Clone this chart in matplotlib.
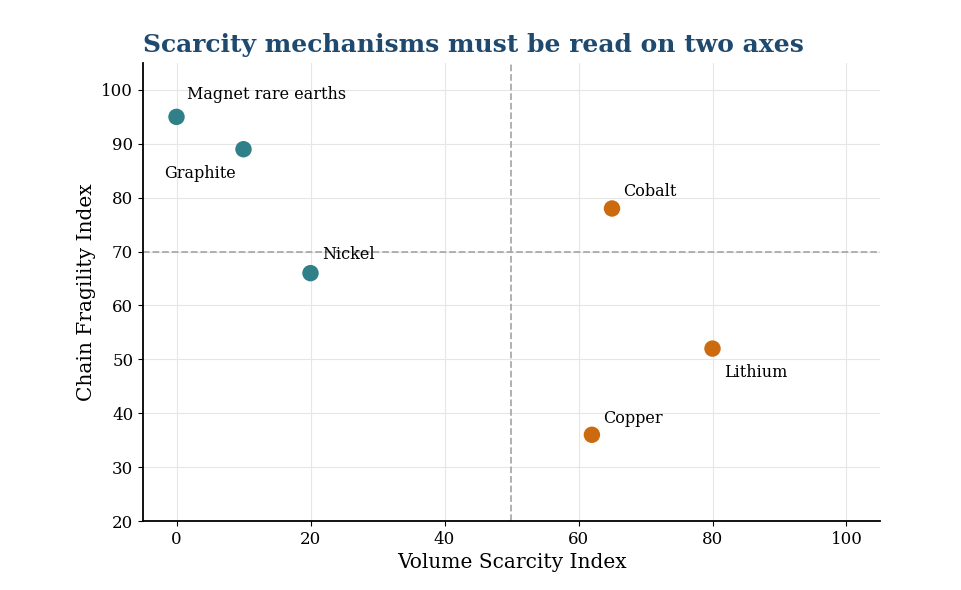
import matplotlib
matplotlib.use("Agg")
import matplotlib.pyplot as plt

plt.rcParams['font.family'] = ['DejaVu Serif']

names = ["Magnet rare earths", "Graphite", "Nickel", "Cobalt", "Lithium", "Copper"]
volume = [0, 10, 20, 65, 80, 62]
fragility = [95, 89, 66, 78, 52, 36]
groups = ["a", "a", "a", "b", "b", "b"]
label_dx = [1.6, -11.9, 1.7, 1.6, 1.7, 1.7]
label_dy = [4.1, -4.6, 3.4, 3.1, -4.5, 3.1]

colors = {"a": "#2f8088", "b": "#cc6a10"}

fig = plt.figure(figsize=(9.61, 5.9), dpi=100)
ax = fig.add_axes([143/961, 1-521/590, (880-143)/961, (521-63)/590])
ax.scatter(volume, fragility, s=140, c=[colors[g] for g in groups], zorder=3, edgecolors='none')
for n, x, y, dx, dy in zip(names, volume, fragility, label_dx, label_dy):
    ax.text(x + dx, y + dy, n, ha='left', va='center', fontsize=11.5, zorder=4)

ax.axvline(50, color='#aaaaaa', ls='--', lw=1.3, zorder=2)
ax.axhline(70, color='#aaaaaa', ls='--', lw=1.3, zorder=2)
ax.set_xlim(-5, 105)
ax.set_ylim(20, 105)
ax.set_xticks([0, 20, 40, 60, 80, 100])
ax.set_yticks(range(20, 101, 10))
ax.grid(True, color='#e6e6e6', lw=0.8, zorder=0)
ax.set_axisbelow(True)
for s in ['top', 'right']:
    ax.spines[s].set_visible(False)
for s in ['left', 'bottom']:
    ax.spines[s].set_linewidth(1.3)
ax.tick_params(labelsize=12)
ax.set_xlabel("Volume Scarcity Index", fontsize=14.5)
ax.set_ylabel("Chain Fragility Index", fontsize=14.5)
ax.set_title("Scarcity mechanisms must be read on two axes", fontsize=18,
             fontweight='bold', color='#1f4a70', loc='left', pad=8)
fig.savefig("out.png", dpi=100)
